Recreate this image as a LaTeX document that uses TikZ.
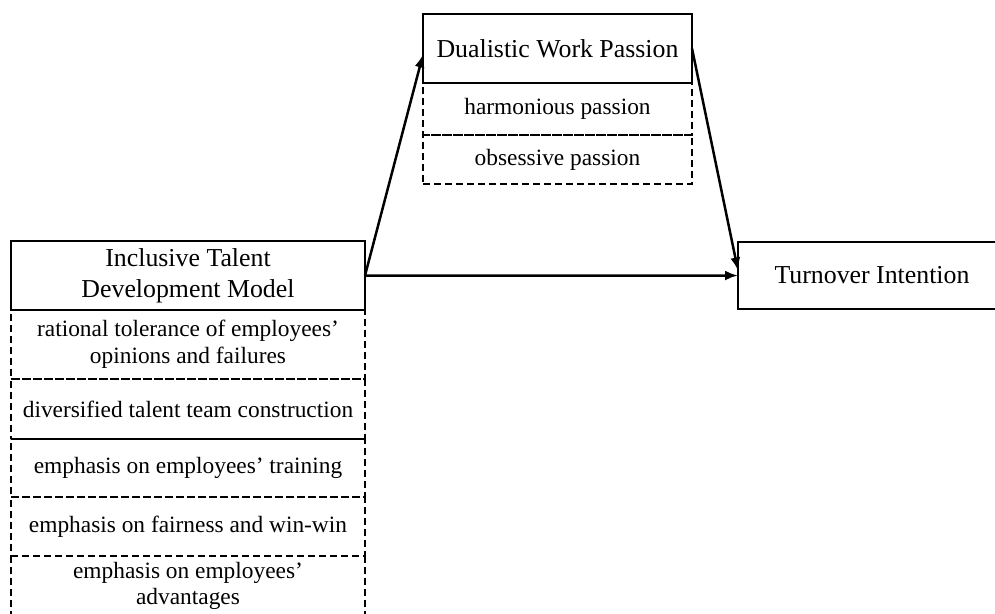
\documentclass[tikz,border=0pt]{standalone}
\usepackage{fontspec}
\setmainfont{Liberation Serif}
\usetikzlibrary{arrows.meta,positioning}

\tikzset{
  mainbox/.style={draw, line width=0.03cm, align=center, inner sep=0pt, outer sep=0pt, anchor=north west,
    font=\fontsize{14.7}{17.5}\selectfont},
  subbox/.style={draw, dash pattern=on 0.14cm off 0.08cm, line width=0.03cm, align=center, inner sep=0pt, outer sep=0pt, anchor=north west,
    font=\fontsize{13.3}{15.6}\selectfont},
  link/.style={line width=0.05cm, -{Latex[length=0.26cm,width=0.2cm]}}
}

\begin{document}
\begin{tikzpicture}
  \useasboundingbox (0,0) rectangle (19.9,-12.26);

  % Inclusive talent development model with its dimensions
  \node [mainbox, minimum width=7.08cm, minimum height=1.38cm] (itdm) at (0.22,-4.82) {Inclusive Talent\\Development Model};
  \node [subbox, minimum width=7.08cm, minimum height=1.38cm] (tol) at (itdm.south west) {rational tolerance of employees’\\opinions and failures};
  \node [subbox, minimum width=7.08cm, minimum height=1.20cm] (div) at (tol.south west) {diversified talent team construction};
  \node [subbox, minimum width=7.08cm, minimum height=1.16cm] (train) at (div.south west) {emphasis on employees’ training};
  \node [subbox, minimum width=7.08cm, minimum height=1.18cm] (fair) at (train.south west) {emphasis on fairness and win-win};
  \draw [line width=0.03cm] (div.south west) -- (div.south east);

  % last dimension runs over the lower edge, so its sides only
  \node [subbox, draw=none, minimum width=7.08cm, minimum height=1.2cm, font=\fontsize{13.3}{14.6}\selectfont] (adv) at (fair.south west) {emphasis on employees’\\advantages};
  \draw [line width=0.03cm, dash pattern=on 0.14cm off 0.08cm] (adv.north west) -- ([yshift=-0.4cm]adv.south west);
  \draw [line width=0.03cm, dash pattern=on 0.14cm off 0.08cm] (adv.north east) -- ([yshift=-0.4cm]adv.south east);

  % Dualistic work passion with its two kinds
  \node [mainbox, minimum width=5.38cm, minimum height=1.38cm] (dwp) at (8.46,-0.28) {Dualistic Work Passion};
  \node [subbox, minimum width=5.38cm, minimum height=1.04cm] (harm) at (dwp.south west) {harmonious passion};
  \node [subbox, minimum width=5.38cm, minimum height=0.98cm] (obs) at (harm.south west) {obsessive passion};

  % Turnover intention
  \node [mainbox, minimum width=5.36cm, minimum height=1.34cm] (ti) at (14.76,-4.84) {Turnover Intention};

  % Paths
  \draw [link] (itdm.east) -- ([yshift=-0.12cm]dwp.west);
  \draw [link] (dwp.east) -- ([yshift=0.1cm]ti.west);
  \draw [link] (itdm.east) -- (ti.west);
\end{tikzpicture}
\end{document}
